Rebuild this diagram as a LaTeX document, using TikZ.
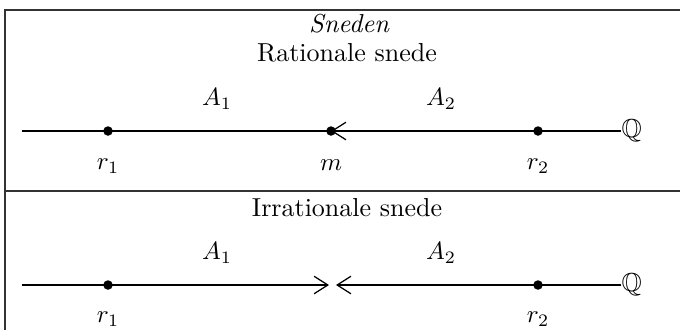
\documentclass[tikz,border=0pt]{standalone}
\usepackage{amssymb}
\usetikzlibrary{arrows.meta}
\begin{document}
\begin{tikzpicture}[x=0.4pt,y=0.4pt,
  lbl/.style={inner sep=0pt,font=\fontsize{10.4}{12}\selectfont},
  frame/.style={line width=0.6pt,draw=black!80},
  axis/.style={line width=0.5pt},
  pt/.style={circle,fill,inner sep=0pt,minimum size=3.8pt},
  tip/.style={-{Straight Barb[length=5.5pt,width=7pt,line width=0.5pt]}}]
\useasboundingbox (0,0) rectangle (680,-329);
\clip (0,0) rectangle (680,-329);
% frame
\coordinate (fb) at (5,-345);
\coordinate (ftl) at (5,-10);
\coordinate (ftr) at (695,-10);
\coordinate (sl) at (5,-191);
\coordinate (sr) at (695,-191);
\draw[frame] (fb) -- (ftl) -- (ftr);
\draw[frame] (sl) -- (sr);
% titles
\node[lbl] (t0) at (349,-24) {\itshape Sneden};
\node[lbl] (t1) at (347,-53) {Rationale snede};
\node[lbl] (t2) at (347,-208) {Irrationale snede};
% row 1
\coordinate (l1) at (22,-131);
\node[lbl,anchor=west] (Q1) at (621,-131) {$\mathbb{Q}$};
\node[pt] (r1a) at (108,-131) {};
\node[pt] (m) at (331,-131) {};
\node[pt] (r2a) at (538,-131) {};
\draw[axis] (l1) -- (m.center);
\draw[axis,tip] (Q1.west) -- (m.center);
\node[lbl] (A1a) at (217,-99) {$A_1$};
\node[lbl] (A2a) at (441,-99) {$A_2$};
\node[lbl] (lr1a) at (108,-166) {$r_1$};
\node[lbl] (lm) at (331,-165) {$m$};
\node[lbl] (lr2a) at (538,-166) {$r_2$};
% row 2
\coordinate (l2) at (22,-285);
\node[lbl,anchor=west] (Q2) at (621,-285) {$\mathbb{Q}$};
\node[pt] (r1b) at (108,-285) {};
\node[pt] (r2b) at (538,-285) {};
\coordinate (tl) at (329,-285);
\coordinate (tr) at (336,-285);
\draw[axis,tip] (l2) -- (tl);
\draw[axis,tip] (Q2.west) -- (tr);
\node[lbl] (A1b) at (217,-253) {$A_1$};
\node[lbl] (A2b) at (441,-253) {$A_2$};
\node[lbl] (lr1b) at (108,-319) {$r_1$};
\node[lbl] (lr2b) at (538,-319) {$r_2$};
\end{tikzpicture}
\end{document}
